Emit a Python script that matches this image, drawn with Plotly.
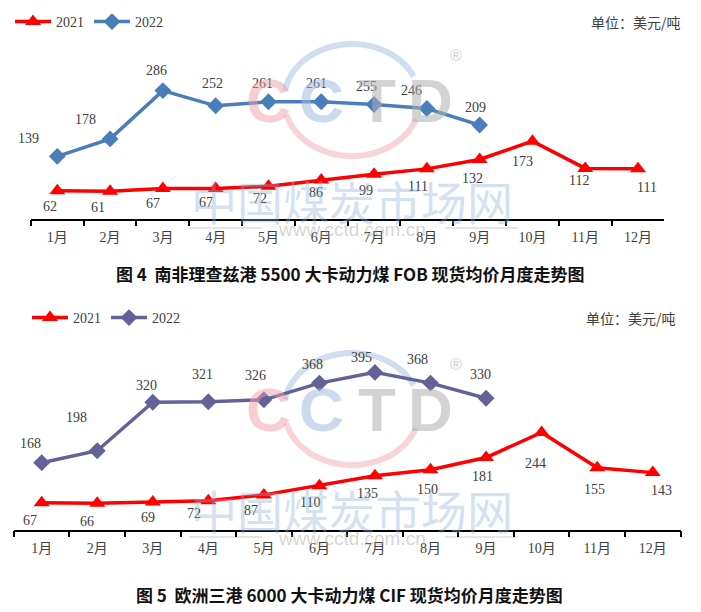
import numpy as np
import plotly.graph_objects as go

# ---------------- data ----------------
months = ['1月', '2月', '3月', '4月', '5月', '6月', '7月', '8月', '9月', '10月', '11月', '12月']
sa_2021 = [62, 61, 67, 67, 72, 86, 99, 111, 132, 173, 112, 111]
sa_2022 = [139, 178, 286, 252, 261, 261, 255, 246, 209]
eu_2021 = [67, 66, 69, 72, 87, 110, 135, 150, 181, 244, 155, 143]
eu_2022 = [168, 198, 320, 321, 326, 368, 395, 368, 330]
series_names = ['2021', '2022']
caption1 = '图 4  南非理查兹港 5500 大卡动力煤 FOB 现货均价月度走势图'
caption2 = '图 5  欧洲三港 6000 大卡动力煤 CIF 现货均价月度走势图'
unit_text = '单位：美元/吨'

# ---------------- label offsets (px: dx right, dy down) ----------------
sa_2022_off = [(-29, -18), (-25, -19), (-6, -20), (-3, -22), (-6, -18), (-5, -18), (-8, -18), (-15, -18), (-4, -18)]
sa_2021_off = [(-7, 16), (-12, 16), (-10, 15), (-10, 14), (-8, 12), (-5, 12), (-8, 16), (-9, 18), (-7, 19), (-10, 20), (-6, 12), (9, 19)]
eu_2022_off = [(-11, -19), (-21, -33), (-6, -17), (-6, -27), (-8, -24), (-7, -19), (-13, -15), (-13, -24), (-6, -24)]
eu_2021_off = [(-12, 18), (-10, 18), (-5, 15), (-14, 13), (-13, 16), (-9, 17), (-7, 18), (-3, 20), (-4, 19), (-6, 31), (-3, 22), (9, 18)]

W, H = 701, 612
RED = '#ff0000'
BLUE = '#4a7ebb'
PURPLE = '#626299'
TXT = '#404040'
SERIF = 'Liberation Serif, Noto Sans CJK SC'
SANS = 'Noto Sans CJK SC'


def px(x):
    return x / W


def py(y):
    return 1 - y / H


fig = go.Figure()

# chart 1 traces
fig.add_trace(go.Scatter(x=months, y=sa_2021, name=series_names[0], mode='lines+markers',
                         line=dict(color=RED, width=3.5),
                         marker=dict(symbol='triangle-up', size=14, color=RED),
                         xaxis='x', yaxis='y', legend='legend'))
fig.add_trace(go.Scatter(x=months[:len(sa_2022)], y=sa_2022, name=series_names[1], mode='lines+markers',
                         line=dict(color=BLUE, width=3.5),
                         marker=dict(symbol='diamond', size=13, color=BLUE),
                         xaxis='x', yaxis='y', legend='legend'))
# chart 2 traces
fig.add_trace(go.Scatter(x=months, y=eu_2021, name=series_names[0], mode='lines+markers',
                         line=dict(color=RED, width=3.5),
                         marker=dict(symbol='triangle-up', size=14, color=RED),
                         xaxis='x2', yaxis='y2', legend='legend2'))
fig.add_trace(go.Scatter(x=months[:len(eu_2022)], y=eu_2022, name=series_names[1], mode='lines+markers',
                         line=dict(color=PURPLE, width=3.5),
                         marker=dict(symbol='diamond', size=13, color=PURPLE),
                         xaxis='x2', yaxis='y2', legend='legend2'))

annotations = []


def add_labels(vals, offs, xref, yref):
    for m, v, (dx, dy) in zip(months, vals, offs):
        annotations.append(dict(x=m, y=v, xref=xref, yref=yref, text=str(v), showarrow=False,
                                xanchor='center', yanchor='middle',
                                xshift=dx, yshift=-dy, font=dict(family=SERIF, size=14, color=TXT)))


add_labels(sa_2021, sa_2021_off, 'x', 'y')
add_labels(sa_2022, sa_2022_off, 'x', 'y')
add_labels(eu_2021, eu_2021_off, 'x2', 'y2')
add_labels(eu_2022, eu_2022_off, 'x2', 'y2')

shapes = []


def ptext(x, y, text, font, xanchor='center'):
    annotations.append(dict(x=px(x), y=py(y), xref='paper', yref='paper', text=text, showarrow=False,
                            xanchor=xanchor, yanchor='middle', font=font))


def arc(cx, cy, rx, ry, a0, a1):
    t = np.radians(np.linspace(a0, a1, 48))
    return ' '.join(('M' if i == 0 else 'L') + f'{px(cx + rx * np.cos(a)):.4f},{py(cy + ry * np.sin(a)):.4f}'
                    for i, a in enumerate(t))


# watermark (decorative)
def watermark(dy):
    cx, cy, rx, ry = 352, 100 + dy, 68, 56
    shapes.append(dict(type='path', path=arc(cx, cy, rx, ry, 190, 335), xref='paper', yref='paper',
                       layer='below', line=dict(color='rgba(170,195,228,0.55)', width=6)))
    shapes.append(dict(type='path', path=arc(cx, cy, rx, ry, 20, 165), xref='paper', yref='paper',
                       layer='below', line=dict(color='rgba(242,175,182,0.55)', width=6)))
    letters = [('C', 268, 'rgba(240,160,168,0.5)'), ('C', 321, 'rgba(160,188,225,0.55)'),
               ('T', 377, 'rgba(175,175,175,0.55)'), ('D', 430, 'rgba(175,175,175,0.55)')]
    for ch, x, col in letters:
        ptext(x, 101 + dy, '<b>' + ch + '</b>', dict(family='Liberation Sans', size=62, color=col))
    ptext(456, 55 + dy, '®', dict(family='Liberation Sans', size=16, color='rgba(170,170,170,0.6)'))
    ptext(352, 200 + dy, '中国煤炭市场网', dict(family=SANS, size=46, color='rgba(140,175,215,0.4)'))
    ptext(352, 229 + dy, 'www.cctd.com.cn', dict(family='Liberation Sans', size=19, color='rgba(160,160,160,0.45)'))
    for x0, x1 in [(189, 262), (445, 518)]:
        shapes.append(dict(type='line', xref='paper', yref='paper', x0=px(x0), x1=px(x1),
                           y0=py(228 + dy), y1=py(228 + dy), layer='below',
                           line=dict(color='rgba(180,180,180,0.45)', width=1.5)))


watermark(0)
watermark(309)

# captions and unit labels
ptext(351, 273, '<b>' + caption1 + '</b>', dict(family=SANS, size=17, color='#111111'))
ptext(349, 594, '<b>' + caption2 + '</b>', dict(family=SANS, size=17, color='#111111'))
ptext(683, 22, unit_text, dict(family=SANS, size=14, color=TXT), xanchor='right')
ptext(678, 318, unit_text, dict(family=SANS, size=14, color=TXT), xanchor='right')

xcommon = dict(type='category', categoryorder='array', categoryarray=months, range=[-0.5, 11.5],
               showline=True, linecolor='#000000', linewidth=1.5, ticks='outside', tickson='boundaries',
               ticklen=6, tickwidth=1.5, tickcolor='#000000', showgrid=False, zeroline=False,
               ticklabelstandoff=5,
               tickfont=dict(family=SERIF, size=14, color=TXT), fixedrange=True)

fig.update_layout(
    width=W, height=H, margin=dict(l=0, r=0, t=0, b=0),
    paper_bgcolor='white', plot_bgcolor='rgba(0,0,0,0)',
    xaxis=dict(domain=[px(30.9), px(664.4)], anchor='y', **xcommon),
    yaxis=dict(domain=[py(218.5), py(62)], range=[0, 350], visible=False, anchor='x', fixedrange=True),
    xaxis2=dict(domain=[px(13.9), px(680.5)], anchor='y2', **xcommon),
    yaxis2=dict(domain=[py(529.5), py(350.5)], range=[0, 450], visible=False, anchor='x2', fixedrange=True),
    legend=dict(orientation='h', x=px(10), y=py(22), xanchor='left', yanchor='middle',
                font=dict(family=SERIF, size=14, color=TXT), bgcolor='rgba(0,0,0,0)', itemwidth=36,
                tracegroupgap=0),
    legend2=dict(orientation='h', x=px(27), y=py(318), xanchor='left', yanchor='middle',
                 font=dict(family=SERIF, size=14, color=TXT), bgcolor='rgba(0,0,0,0)', itemwidth=36,
                 tracegroupgap=0),
    annotations=annotations, shapes=shapes, showlegend=True, hovermode=False,
)

fig.write_html('out.html', config={'displayModeBar': False, 'staticPlot': False},
               post_script="document.body.style.margin='0';document.body.style.padding='0';"
                           "document.body.style.overflow='hidden';")
